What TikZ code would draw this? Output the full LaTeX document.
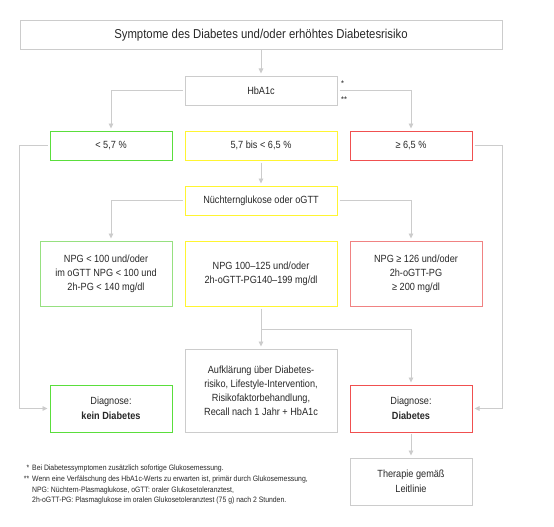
\documentclass[tikz,border=0pt]{standalone}
\usepackage{fontspec}
\setmainfont[FakeStretch=0.88]{Liberation Sans}
\usetikzlibrary{arrows.meta}
\definecolor{lgray}{RGB}{204,204,204}
\definecolor{gA}{RGB}{90,222,60}
\definecolor{gB}{RGB}{150,224,128}
\definecolor{yA}{RGB}{255,245,50}
\definecolor{rA}{RGB}{240,80,80}
\definecolor{rB}{RGB}{240,130,130}
\definecolor{txt}{RGB}{40,40,40}
\tikzset{
  box/.style={draw=lgray, line width=1pt, rectangle, inner sep=0pt, align=center,
    text=txt, font=\fontsize{10.4}{14}\selectfont},
  conn/.style={draw=lgray, line width=0.9pt},
  arr/.style={conn, -{Triangle[width=4.5pt,length=5pt]}, shorten >=2pt},
}
\begin{document}
\begin{tikzpicture}[x=1pt,y=-1pt]
\useasboundingbox (0,0) rectangle (554,527);
\fill[white] (0,0) rectangle (554,527);
% boxes
\node[box, minimum width=482pt, minimum height=29pt, font=\fontsize{12.9}{14}\selectfont] (top) at (261,35.5) {Symptome des Diabetes und/oder erhöhtes Diabetesrisiko};
\node[box, minimum width=152pt, minimum height=29pt] (hb) at (261,90.5) {HbA1c};
\node[box, draw=gA, minimum width=122pt, minimum height=29pt] (g2) at (111,145.5) {< 5,7 \%};
\node[box, draw=yA, minimum width=152pt, minimum height=29pt] (y2) at (261,145.5) {5,7 bis < 6,5 \%};
\node[box, draw=rA, minimum width=122pt, minimum height=29pt] (r2) at (411,145.5) {≥ 6,5 \%};
\node[box, draw=yA, minimum width=152pt, minimum height=29pt] (nu) at (261,200.5) {Nüchternglukose oder oGTT};
\node[box, draw=gB, minimum width=132pt, minimum height=65pt] (g3) at (106,273.5) {NPG < 100 und/oder\\im oGTT NPG < 100 und\\2h-PG < 140 mg/dl};
\node[box, draw=yA, minimum width=152pt, minimum height=65pt] (y3) at (261,273.5) {NPG 100–125 und/oder\\2h-oGTT-PG140–199 mg/dl};
\node[box, draw=rB, minimum width=132pt, minimum height=65pt] (r3) at (416,273.5) {NPG ≥ 126 und/oder\\2h-oGTT-PG\\≥ 200 mg/dl};
\node[box, minimum width=152pt, minimum height=83pt] (auf) at (261,390.5) {Aufklärung über Diabetes-\\risiko, Lifestyle-Intervention,\\Risikofaktorbehandlung,\\Recall nach 1 Jahr + HbA1c};
\node[box, draw=gA, minimum width=122pt, minimum height=47pt, font=\fontsize{10.4}{15}\selectfont] (kein) at (111,408.5) {Diagnose:\\\textbf{kein Diabetes}};
\node[box, draw=rA, minimum width=122pt, minimum height=47pt, font=\fontsize{10.4}{15}\selectfont] (dia) at (411,408.5) {Diagnose:\\\textbf{Diabetes}};
\node[box, minimum width=122pt, minimum height=47pt, font=\fontsize{10.4}{15}\selectfont] (ther) at (411,481.5) {Therapie gemäß\\Leitlinie};
% stars
\node[anchor=west, inner sep=0pt, text=txt, font=\fontsize{8.5}{9}\selectfont] (s1) at (341,84) {*};
\node[anchor=west, inner sep=0pt, text=txt, font=\fontsize{8.5}{9}\selectfont] (s2) at (341,100) {**};
% connectors
\draw[arr] (top.south) -- (hb.north);
\draw[arr, shorten <=2pt] (hb.west) -| (g2.north);
\draw[arr, shorten <=2pt] (hb.east) -| (r2.north);
\draw[arr, shorten <=2pt] (y2.south) -- (nu.north);
\draw[arr, shorten <=2pt] (nu.west) -| (g2 |- g3.north);
\draw[arr, shorten <=2pt] (nu.east) -| (r2 |- r3.north);
\coordinate (br) at (261,329);
\draw[arr, shorten <=2pt] (y3.south) -- (auf.north);
\draw[arr] (br) -| (dia.north);
\draw[arr, shorten <=2pt] (g2.west) -- (g2.west -| top.west) |- (kein.west);
\draw[arr, shorten <=2pt] (r2.east) -- (r2.east -| top.east) |- (dia.east);
\draw[arr, shorten <=1pt] (dia.south) -- (ther.north);
% footnotes
\node[anchor=base west, inner sep=0pt, text=txt, font=\fontsize{7.8}{10.8}\selectfont] (fn) at (20,470.5) {%
\begin{tabular}[t]{@{}r@{\hspace{3pt}}l@{}}
\makebox[9pt][r]{*} & Bei Diabetessymptomen zusätzlich sofortige Glukosemessung.\\
\makebox[9pt][r]{**} & Wenn eine Verfälschung des HbA1c-Werts zu erwarten ist, primär durch Glukosemessung,\\
 & NPG: Nüchtern-Plasmaglukose, oGTT: oraler Glukosetoleranztest,\\
 & 2h-oGTT-PG: Plasmaglukose im oralen Glukosetoleranztest (75 g) nach 2 Stunden.
\end{tabular}};
\end{tikzpicture}
\end{document}
